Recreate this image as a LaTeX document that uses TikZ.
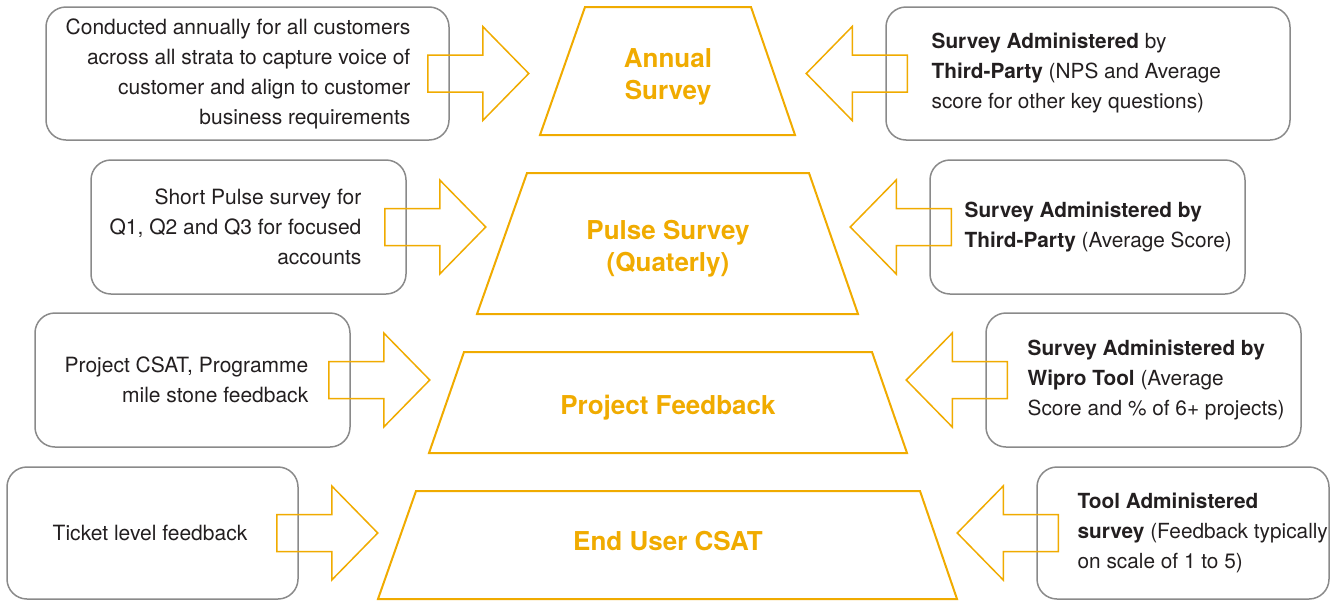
\documentclass[tikz,border=0pt]{standalone}
\usepackage{fontspec}
\setmainfont{TeX Gyre Heros}
\usetikzlibrary{positioning}
\definecolor{surveyorange}{HTML}{F0AB00}
\definecolor{boxgray}{HTML}{8A8A8A}
\definecolor{bodytext}{HTML}{231F20}
\tikzset{
  box/.style={draw=boxgray, line width=0.75pt, rounded corners=10pt, inner sep=0pt},
  ltext/.style={text=bodytext, align=right, inner sep=0pt, font=\fontsize{10.5}{15}\selectfont},
  rtext/.style={text=bodytext, align=left, inner sep=0pt, font=\fontsize{10.4}{15}\selectfont},
  title/.style={text=surveyorange, align=center, inner sep=0pt, font=\fontsize{13}{16}\selectfont\bfseries},
  trap/.style={draw=surveyorange, line width=1pt},
  arrowline/.style={draw=surveyorange, line width=0.75pt},
  rarrow/.pic={\draw[arrowline] (0,-18.5) -- (55,-18.5) -- (55,-47) -- (101,0) -- (55,47) -- (55,18.5) -- (0,18.5) -- cycle;},
  larrow/.pic={\draw[arrowline] (0,-18.5) -- (-55,-18.5) -- (-55,-47) -- (-101,0) -- (-55,47) -- (-55,18.5) -- (0,18.5) -- cycle;}
}

\begin{document}
\begin{tikzpicture}[x=0.5pt,y=-0.5pt]
\useasboundingbox (0,0) rectangle (1337,600);

% funnel
\draw[trap] (585,7) -- (751,7) -- (795,135) -- (540,135) -- cycle;
\node[title] (annual) at (668,77) {Annual\\Survey};
\draw[trap] (527,173) -- (809,173) -- (858,314) -- (477,314) -- cycle;
\node[title] (pulse) at (668,249) {Pulse Survey\\(Quaterly)};
\draw[trap] (464,352) -- (872,352) -- (907,453) -- (429,453) -- cycle;
\node[title] (project) at (668,408) {Project Feedback};
\draw[trap] (416,491) -- (920,491) -- (957,599) -- (378,599) -- cycle;
\node[title] (enduser) at (668,541) {End User CSAT};

% left boxes
\node[box, minimum width=201.5pt, minimum height=66.5pt] (L1) at (247.5,73.5) {};
\node[ltext, left=19.5pt of L1.east] (L1t) {Conducted annually for all customers\\across all strata to capture voice of\\customer and align to customer\\business requirements};
\node[box, minimum width=157.5pt, minimum height=67pt] (L2) at (248.5,227) {};
\node[ltext, left=22.5pt of L2.east] (L2t) {Short Pulse survey for\\Q1, Q2 and Q3 for focused\\accounts};
\node[box, minimum width=157.5pt, minimum height=67pt] (L3) at (192.5,380) {};
\node[ltext, left=21pt of L3.east] (L3t) {Project CSAT, Programme\\mile stone feedback};
\node[box, minimum width=145.5pt, minimum height=66pt] (L4) at (152.5,533) {};
\node[ltext, left=25.5pt of L4.east] (L4t) {Ticket level feedback};

% right boxes
\node[box, minimum width=202pt, minimum height=66.5pt] (R1) at (1088,73.5) {};
\node[rtext, right=23pt of R1.west] (R1t) {\textbf{Survey Administered} by\\\textbf{Third-Party} (NPS and Average\\score for other key questions)};
\node[box, minimum width=157.5pt, minimum height=67pt] (R2) at (1087.5,227) {};
\node[rtext, right=17.5pt of R2.west] (R2t) {\textbf{Survey Administered by}\\\textbf{Third-Party} (Average Score)};
\node[box, minimum width=157.5pt, minimum height=67pt] (R3) at (1143.5,380) {};
\node[rtext, right=21pt of R3.west] (R3t) {\textbf{Survey Administered by}\\\textbf{Wipro Tool} (Average\\Score and \% of 6+ projects)};
\node[box, minimum width=146pt, minimum height=66pt] (R4) at (1183,533) {};
\node[rtext, right=20.5pt of R4.west] (R4t) {\textbf{Tool Administered}\\\textbf{survey} (Feedback typically\\on scale of 1 to 5)};

% block arrows
\pic at ([xshift=-11pt]L1.east) {rarrow};
\pic at ([xshift=-11pt]L2.east) {rarrow};
\pic at ([xshift=-11pt]L3.east) {rarrow};
\pic at ([xshift=-11pt]L4.east) {rarrow};
\pic at ([xshift=11pt]R1.west) {larrow};
\pic at ([xshift=11pt]R2.west) {larrow};
\pic at ([xshift=11pt]R3.west) {larrow};
\pic at ([xshift=11pt]R4.west) {larrow};
\end{tikzpicture}
\end{document}
